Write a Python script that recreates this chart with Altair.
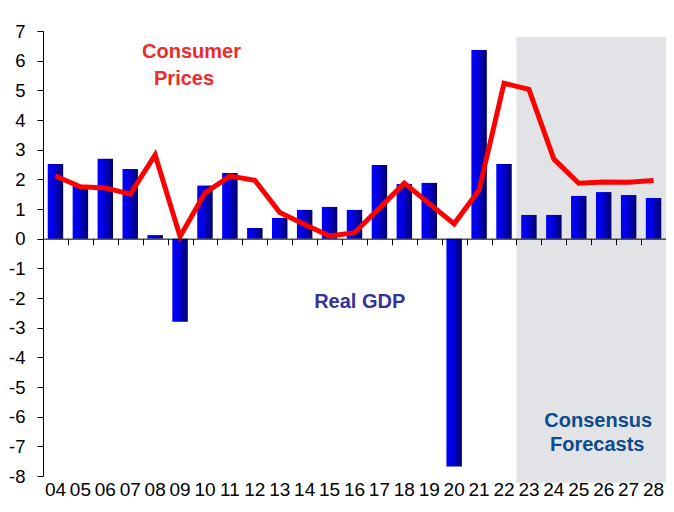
import altair as alt
import pandas as pd

years = ["04", "05", "06", "07", "08", "09", "10", "11", "12", "13", "14", "15", "16",
         "17", "18", "19", "20", "21", "22", "23", "24", "25", "26", "27", "28"]
gdp = [2.52, 1.79, 2.69, 2.35, 0.12, -2.80, 1.79, 2.21, 0.36, 0.70, 0.97, 1.07, 0.97,
       2.48, 1.84, 1.88, -7.68, 6.36, 2.52, 0.80, 0.80, 1.44, 1.57, 1.47, 1.37]
cpi = [2.11, 1.75, 1.71, 1.50, 2.82, 0.07, 1.54, 2.11, 1.97, 0.88, 0.48, 0.09, 0.20,
       1.03, 1.87, 1.18, 0.50, 1.64, 5.24, 5.03, 2.68, 1.87, 1.91, 1.90, 1.96]

label_text = ["Consumer", "Prices", "Real GDP", "Consensus", "Forecasts"]
label_x = [5.96, 5.66, 12.71, 22.28, 22.24]
label_y = [6.08, 5.18, -2.33, -6.34, -7.16]
label_color = ["#ee2a2a", "#ee2a2a", "#333399", "#0d4a8e", "#0d4a8e"]

shade_x = [19]
shade_x2 = [25.3]
shade_y = [6.8]
shade_y2 = [-8.23]

FONT = "Liberation Sans"

df = pd.DataFrame({"yr": years, "gdp": gdp, "cpi": cpi})
tdf = pd.DataFrame({"t": label_text, "x": label_x, "y": label_y, "c": label_color})
sdf = pd.DataFrame({"x": shade_x, "x2": shade_x2, "y": shade_y, "y2": shade_y2})

yscale = alt.Scale(domain=[-8, 7], nice=False, zero=False)
yaxis = alt.Axis(values=list(range(-8, 8)), title=None, grid=False, domainColor="black",
                 tickColor="black", tickSize=6, labelPadding=12, labelFontSize=18.5,
                 labelFont=FONT, labelColor="black", domainWidth=1,
                 labelExpr="'' + datum.value")
xband = alt.Scale(domain=years, paddingInner=0.38, paddingOuter=0.19)
xquant = alt.Scale(domain=[0, 25], nice=False, zero=False)

gradient = alt.Gradient(
    gradient="linear",
    stops=[alt.GradientStop(color="#0000ff", offset=0),
           alt.GradientStop(color="#0000e0", offset=0.4),
           alt.GradientStop(color="#000068", offset=1)],
    x1=0, x2=1, y1=0, y2=0,
)

shade_layer = alt.Chart(sdf).mark_rect(color="#e1e3e6").encode(
    x=alt.X("x:Q", scale=xquant,
            axis=alt.Axis(orient="bottom", values=list(range(26)), labels=False, title=None,
                          grid=False, domainColor="black", tickColor="black", tickSize=6,
                          offset=-237.33, zindex=1)),
    x2="x2",
    y=alt.Y("y:Q", scale=yscale, axis=yaxis),
    y2="y2",
)

bars = alt.Chart(df).mark_bar(color=gradient).encode(
    x=alt.X("yr:O", scale=xband, sort=years,
            axis=alt.Axis(orient="bottom", title=None, domain=False, ticks=False, tickSize=0,
                          labelPadding=4, labelFontSize=19, labelAngle=0, labelFont=FONT,
                          labelColor="black")),
    y=alt.Y("gdp:Q", scale=yscale, axis=yaxis),
    y2=alt.datum(0),
)

line = alt.Chart(df).mark_line(color="#ff0000", strokeWidth=5).encode(
    x=alt.X("yr:O", scale=xband, sort=years, axis=None),
    y=alt.Y("cpi:Q", scale=yscale, axis=yaxis),
)

text = alt.Chart(tdf).mark_text(fontSize=20, fontWeight="bold", font=FONT,
                                baseline="alphabetic", align="center").encode(
    x=alt.X("x:Q", scale=xquant, axis=None),
    y=alt.Y("y:Q", scale=yscale, axis=yaxis),
    text="t:N",
    color=alt.Color("c:N", scale=None),
)

chart = alt.layer(shade_layer, bars, line, text).resolve_scale(x="independent").properties(
    width=623, height=445,
    padding={"left": 35, "top": 23, "right": 0, "bottom": 28},
    autosize=alt.AutoSizeParams(type="none"),
).configure_view(stroke=None)

chart.save("out.html", embed_options={"renderer": "svg", "actions": False})
